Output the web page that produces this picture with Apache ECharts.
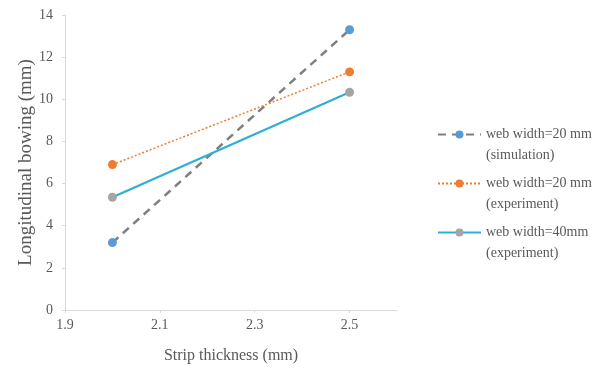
<!DOCTYPE html>
<html>
<head>
<meta charset="utf-8">
<script src="https://cdn.jsdelivr.net/npm/echarts@6/dist/echarts.min.js"></script>
<style>html,body{margin:0;padding:0;background:#fff;}#c{width:600px;height:369px;}</style>
</head>
<body>
<div id="c"></div>
<script>
const thickness = [2.0, 2.5];
const sim20 = [3.2, 13.3];
const exp20 = [6.9, 11.3];
const exp40 = [5.35, 10.33];
const seriesNames = ['web width=20 mm\n(simulation)', 'web width=20 mm\n(experiment)', 'web width=40mm\n(experiment)'];
const xTicks = [1.9, 2.1, 2.3, 2.5];

const pair = (xs, ys) => xs.map((x, i) => [x, ys[i]]);
const font = '"Liberation Serif", "DejaVu Serif", serif';
const chart = echarts.init(document.getElementById('c'), null, {renderer: 'canvas'});
chart.setOption({
  animation: false,
  backgroundColor: '#fff',
  textStyle: {fontFamily: font},
  grid: {left: 65, top: 15, right: 203, bottom: 59, containLabel: false},
  xAxis: {
    type: 'value', min: 1.9, max: 2.6, interval: 0.2,
    name: 'Strip thickness (mm)', nameLocation: 'middle', nameGap: 38, nameMoveOverlap: false,
    nameTextStyle: {fontFamily: font, fontSize: 16, color: '#595959'},
    axisLine: {show: true, lineStyle: {color: '#d9d9d9', width: 1}},
    axisTick: {show: true, length: 3, inside: false, lineStyle: {color: '#d9d9d9'}},
    splitLine: {show: false},
    axisLabel: {
      fontFamily: font, fontSize: 14, color: '#595959', margin: 8,
      showMaxLabel: false,
      formatter: v => {
        const t = xTicks.find(k => Math.abs(k - v) < 1e-6);
        return t === undefined ? '' : t.toFixed(1);
      }
    }
  },
  yAxis: {
    type: 'value', min: 0, max: 14, interval: 2,
    name: 'Longitudinal bowing (mm)', nameLocation: 'middle', nameGap: 29, nameRotate: 90, nameMoveOverlap: false,
    nameTextStyle: {fontFamily: font, fontSize: 19, color: '#595959'},
    axisLine: {show: true, lineStyle: {color: '#d9d9d9', width: 1}},
    axisTick: {show: true, length: 3, lineStyle: {color: '#d9d9d9'}},
    splitLine: {show: false},
    axisLabel: {fontFamily: font, fontSize: 14, color: '#595959', margin: 12}
  },
  legend: {
    orient: 'vertical', left: 432, top: 98,
    itemWidth: 43, itemHeight: 10, itemGap: -14,
    formatter: name => '\n' + name,
    textStyle: {fontFamily: font, fontSize: 14, color: '#595959', lineHeight: 21},
    data: seriesNames
  },
  series: [
    {
      name: seriesNames[0], type: 'line', data: pair(thickness, sim20),
      symbol: 'circle', symbolSize: 9,
      itemStyle: {color: '#5B9BD5'},
      lineStyle: {color: '#7f7f7f', width: 2.5, type: [8, 6]}
    },
    {
      name: seriesNames[1], type: 'line', data: pair(thickness, exp20),
      symbol: 'circle', symbolSize: 9,
      itemStyle: {color: '#ED7D31'},
      lineStyle: {color: '#ED7D31', width: 1.5, type: [2, 2]}
    },
    {
      name: seriesNames[2], type: 'line', data: pair(thickness, exp40),
      symbol: 'circle', symbolSize: 9,
      itemStyle: {color: '#A5A5A5'},
      lineStyle: {color: '#2EAFD4', width: 2.2, type: 'solid'}
    }
  ]
});
</script>
</body>
</html>
